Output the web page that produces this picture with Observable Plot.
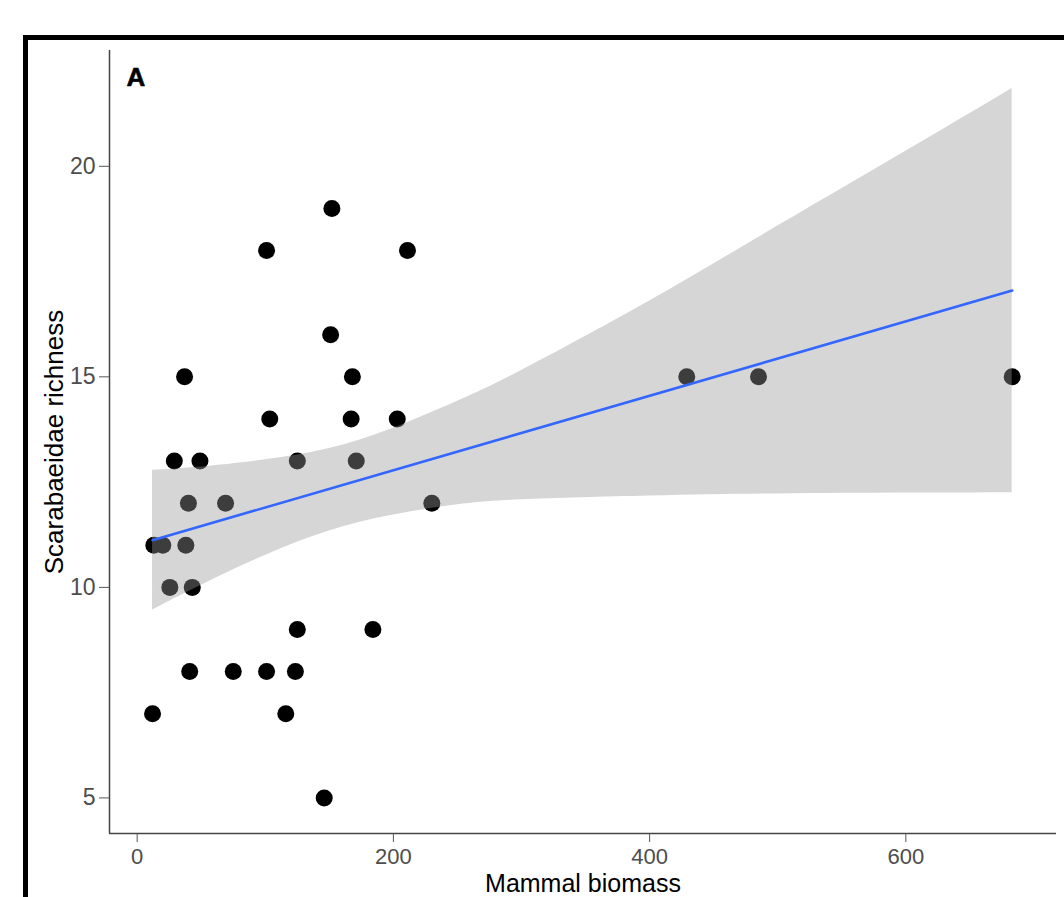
<!DOCTYPE html>
<html>
<head>
<meta charset="utf-8">
<script src="https://cdn.jsdelivr.net/npm/d3@7"></script>
<script src="https://cdn.jsdelivr.net/npm/@observablehq/plot@0.6"></script>
<style>
  html, body { margin: 0; padding: 0; background: #fff; }
  #wrap { position: relative; width: 1064px; height: 897px; overflow: hidden; background: #fff; }
  #frame { position: absolute; left: 23px; top: 35px; width: 1200px; height: 1000px; border: 5px solid #000; box-sizing: border-box; }
  #chart { position: absolute; left: 0; top: 0; }
  #chart svg { background: transparent !important; }
</style>
</head>
<body>
<div id="wrap"><div id="frame"></div><div id="chart"></div></div>
<script>
// Observed points
const biomass  = [152, 101, 211, 151, 37, 168, 429, 485, 683, 103.5, 167, 203, 29, 49, 125, 171, 40, 69, 230, 13, 20, 38, 25.5, 43, 125, 184, 41, 75, 101, 123.5, 12, 116, 146];
const richness = [19, 18, 18, 16, 15, 15, 15, 15, 15, 14, 14, 14, 13, 13, 13, 13, 12, 12, 12, 11, 11, 11, 10, 10, 9, 9, 8, 8, 8, 8, 7, 7, 5];

// Fitted line
const fitX = [12, 683];
const fitY = [11.12, 17.05];

// Confidence band
const bandX  = [12, 50, 100, 150, 200, 250, 300, 400, 500, 600, 683];
const bandLo = [9.46, 10.05, 10.76, 11.34, 11.72, 11.96, 12.08, 12.17, 12.22, 12.24, 12.25];
const bandHi = [12.78, 12.86, 13.03, 13.30, 13.78, 14.42, 15.15, 16.80, 18.58, 20.36, 21.85];

const xTicks = [0, 200, 400, 600];
const yTicks = [5, 10, 15, 20];
const xDomain = [-21.6, 717.6];
const yDomain = [4.155, 22.75];

const points = biomass.map((b, i) => ({x: b, y: richness[i]}));
const band = bandX.map((b, i) => ({x: b, lo: bandLo[i], hi: bandHi[i]}));
const fit = fitX.map((b, i) => ({x: b, y: fitY[i]}));

const font = "Arimo, 'Liberation Sans', Arial, sans-serif";

const chart = Plot.plot({
  width: 1064,
  height: 897,
  marginLeft: 109,
  marginRight: 8,
  marginTop: 50,
  marginBottom: 64,
  style: {fontFamily: font, background: "transparent"},
  x: {domain: xDomain},
  y: {domain: yDomain},
  marks: [
    Plot.dot(points, {x: "x", y: "y", r: 8.5, fill: "#000", stroke: "none"}),
    Plot.areaY(band, {x: "x", y1: "lo", y2: "hi", fill: "#999999", fillOpacity: 0.4, curve: "natural"}),
    Plot.line(fit, {x: "x", y: "y", stroke: "#3366FF", strokeWidth: 2.6}),
    Plot.ruleX([xDomain[0]], {stroke: "#444", strokeWidth: 1.5}),
    Plot.ruleY([yDomain[0]], {stroke: "#444", strokeWidth: 1.5}),
    Plot.axisX({ticks: xTicks, tickSize: 9, tickPadding: 6, fontSize: 22, color: "#4d4d4d", stroke: "#555", label: null}),
    Plot.axisY({ticks: yTicks, tickSize: 10, tickPadding: 4, fontSize: 23, color: "#4d4d4d", stroke: "#555", label: null}),
    Plot.text(["Mammal biomass"], {frameAnchor: "bottom", dy: 58.5, textAnchor: "middle", lineAnchor: "bottom", fontSize: 25, fill: "#000"}),
    Plot.text(["Scarabaeidae richness"], {frameAnchor: "left", dx: -47, rotate: -90, textAnchor: "middle", lineAnchor: "bottom", fontSize: 26, fill: "#000"}),
    Plot.text(["A"], {frameAnchor: "top-left", dx: 17, dy: 35, textAnchor: "start", lineAnchor: "bottom", fontSize: 26, fontWeight: "bold", fill: "#000", stroke: "#000", strokeWidth: 0.6})
  ]
});
document.getElementById("chart").appendChild(chart);
</script>
</body>
</html>
